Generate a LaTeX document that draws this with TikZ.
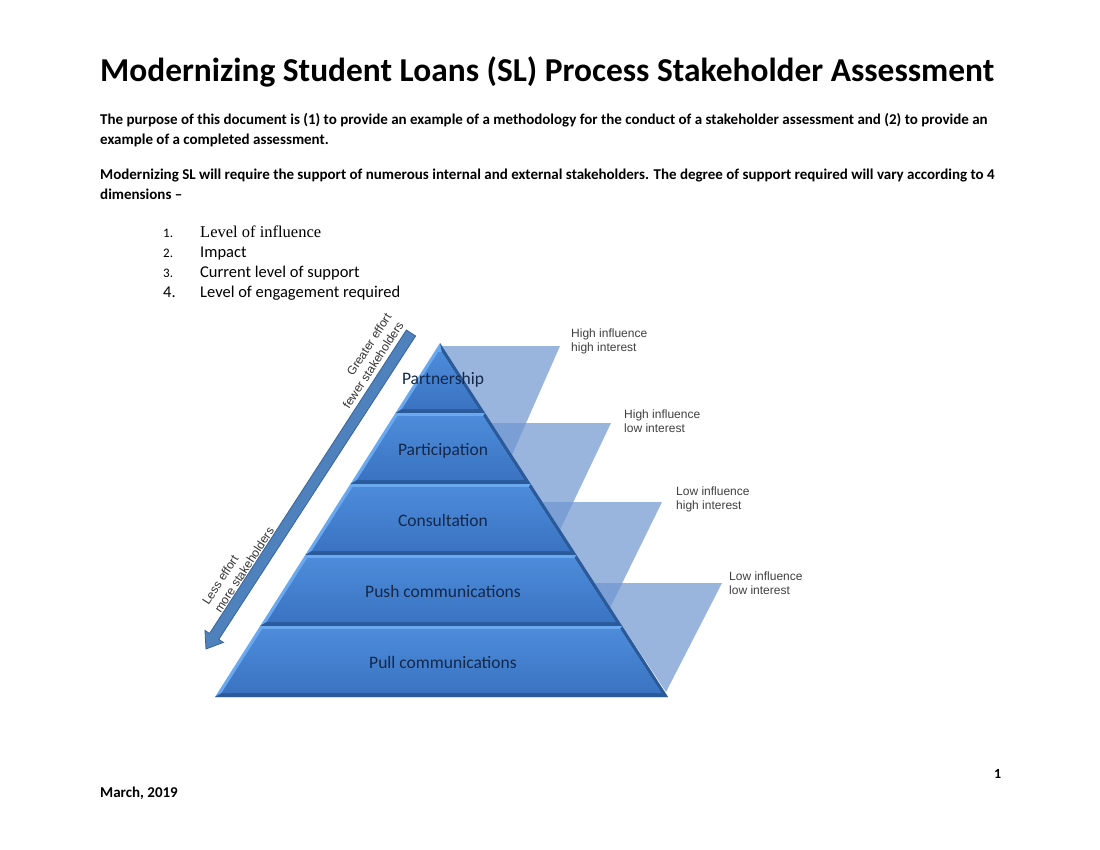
\documentclass[tikz,border=0pt]{standalone}
\usepackage{fontspec}
\setmainfont{Carlito}
\newfontfamily\arialfont{Liberation Sans}
\newfontfamily\timesfont{Liberation Serif}
\usetikzlibrary{calc}
\definecolor{bandtop}{HTML}{4D8CDA}
\definecolor{bandbot}{HTML}{3A73C2}
\definecolor{bandlite}{HTML}{6AA8F0}
\definecolor{banddark}{HTML}{2B5A9A}
\definecolor{bandtext}{HTML}{13284A}
\definecolor{trifill}{HTML}{6F96D0}
\definecolor{arrowfill}{HTML}{4F81BD}
\definecolor{arrowline}{HTML}{3A6498}

\begin{document}
\begin{tikzpicture}[x=1pt,y=-1pt,
  declare function={lx(\v)=440-0.6356*(\v-343); rx(\v)=440+0.644*(\v-343);}]
  \tikzstyle{txt}=[anchor=base west, inner sep=0pt]
  \tikzstyle{body}=[txt, font=\fontsize{15}{18}\selectfont\bfseries]
  \tikzstyle{item}=[txt, font=\fontsize{16.5}{20}\selectfont]
  \tikzstyle{num}=[txt, font=\fontsize{13}{16}\selectfont]
  \tikzstyle{tri}=[fill=trifill, fill opacity=0.7]
  \tikzstyle{band}=[top color=bandtop, bottom color=bandbot]
  \tikzstyle{lbl}=[anchor=base, inner sep=0pt, text=bandtext, font=\fontsize{17.5}{20}\selectfont]
  \tikzstyle{side}=[anchor=north west, inner sep=0pt, align=left, text=black!75, font=\arialfont\fontsize{12}{13.5}\selectfont]
  \tikzstyle{effort}=[inner sep=0pt, rotate=57, text=black!80, font=\arialfont\fontsize{12}{14.5}\selectfont]
  \useasboundingbox[fill=white] (0,0) rectangle (1100,850);

  \node[txt, font=\fontsize{33.4}{40}\selectfont\bfseries] (title) at (100,82) {Modernizing Student Loans (SL) Process Stakeholder Assessment};
  \node[body] (purpose) at (100,125) {The purpose of this document is (1) to provide an example of a methodology for the conduct of a stakeholder assessment and (2) to provide an};
  \node[body] (purpose2) at (100,145) {example of a completed assessment.};
  \node[body] (support) at (100,180) {Modernizing SL will require the support of numerous internal and external stakeholders. The degree of support required will vary according to 4};
  \node[body] (support2) at (100,200) {dimensions –};

  \node[num] (n1) at (163,238) {1.};
  \node[item, font=\timesfont\fontsize{16.5}{20}\selectfont] (i1) at (200,238) {Level of influence};
  \node[num] (n2) at (163,258) {2.};
  \node[item] (i2) at (200,258) {Impact};
  \node[num] (n3) at (163,278) {3.};
  \node[item] (i3) at (200,278) {Current level of support};
  \node[item] (n4) at (163,298) {4.};
  \node[item] (i4) at (200,298) {Level of engagement required};

  \fill[tri] (442,346) -- (560,346) -- (512,455) -- cycle;
  \fill[tri] (491,423) -- (611,423) -- (560,530) -- cycle;
  \fill[tri] (542,502) -- (662,502) -- (610,608) -- cycle;
  \fill[tri] (594,583) -- (722,583) -- (666,692) -- cycle;

  \foreach \t/\b/\i/\nm/\lab in {343/413/352/partner/Partnership, 413/484/416/particip/Participation, 484/555/487/consult/Consultation, 555/626/558/push/Push communications, 626/697/629/pull/Pull communications}{
    \fill[bandlite] ({lx(\t)},\t) -- ({rx(\t)},\t) -- ({rx(\b)},\b) -- ({lx(\b)},\b) -- cycle;
    \fill[banddark] ({rx(\t)},\t) -- ({rx(\b)},\b) -- ({lx(\b)},\b) -- ({lx(\b-4)+4},\b-4) -- ({rx(\b-4)-4},\b-4) -- ({rx(\i)-4},\i) -- cycle;
    \shade[band] ({lx(\i)+4},\i) -- ({rx(\i)-4},\i) -- ({rx(\b-4)-4},\b-4) -- ({lx(\b-4)+4},\b-4) -- cycle;
    \node[lbl] (\nm) at (443,{(\t+\b)/2+6.5}) {\lab};
  }

  \coordinate (arTop) at (411,333);
  \coordinate (arTip) at (206,649);
  \coordinate (arBase) at ($(arTip)!15pt!(arTop)$);
  \filldraw[fill=arrowfill, draw=arrowline, line width=0.8pt] ($(arTop)!5.5pt!90:(arTip)$) -- ($(arBase)!5.5pt!90:(arTip)$) -- ($(arBase)!11pt!90:(arTip)$) -- (arTip) -- ($(arBase)!11pt!-90:(arTip)$) -- ($(arBase)!5.5pt!-90:(arTip)$) -- ($(arTop)!5.5pt!-90:(arTip)$) -- cycle;
  \node[effort, align=right] (greater) at (367,361) {Greater effort\\fewer stakeholders};
  \node[effort, align=left] (less) at (238,566) {Less effort\\more stakeholders};

  \node[side] (hihi) at (571,329) {High influence\\high interest};
  \node[side] (hilo) at (624,410) {High influence\\low interest};
  \node[side] (lohi) at (676,487) {Low influence\\high interest};
  \node[side] (lolo) at (729,572) {Low influence\\low interest};

  \node[txt, font=\fontsize{15}{18}\selectfont\bfseries] (date) at (100,797) {March, 2019};
  \node[txt, font=\fontsize{14}{17}\selectfont\bfseries] (page) at (994,778) {1};
\end{tikzpicture}
\end{document}
